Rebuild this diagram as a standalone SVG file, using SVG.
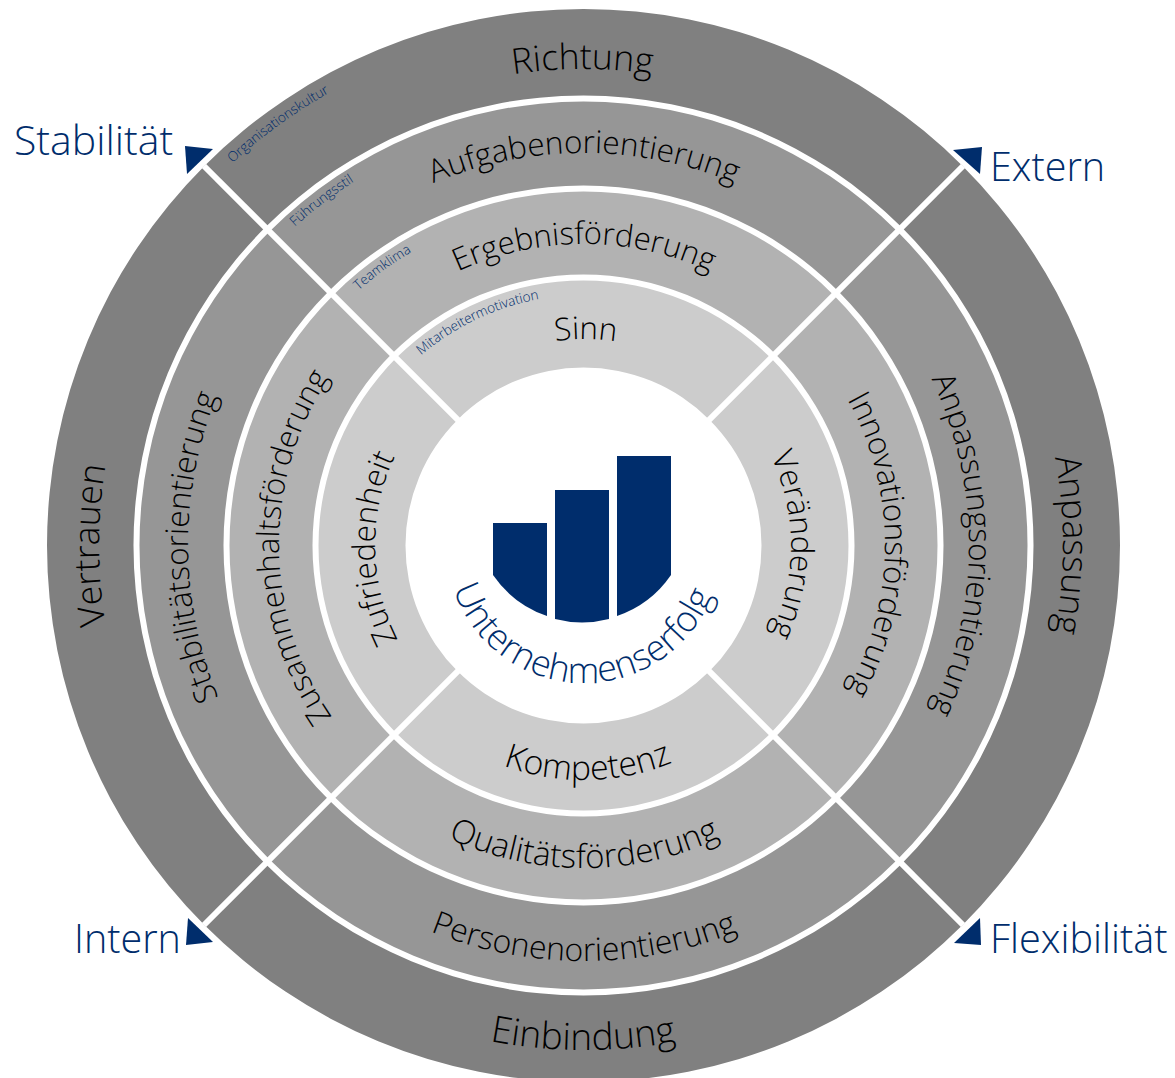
<svg xmlns="http://www.w3.org/2000/svg" width="1175" height="1078" viewBox="0 0 1175 1078">
<style>
text{font-family:"Open Sans","Noto Sans","Liberation Sans",sans-serif;font-weight:300;fill:#000}
.m{text-anchor:middle}
.n{fill:#002d6c}
.lg{font-size:35.5px}
.md{font-size:31.3px}
.sm{font-size:13.6px;fill:#002d6c}
.r1{fill:#808080}.r2{fill:#969696}.r3{fill:#b2b2b2}.r4{fill:#ccc}
.tri{fill:#002d6c}
</style>
<defs>
<path id="s1" d="M204.14 166.14A536.5 536.5 0 0 1 962.86 166.14L901.7 227.3A450 450 0 0 0 265.3 227.3Z"/>
<path id="s2" d="M269.54 231.54A444 444 0 0 1 897.46 231.54L838.06 290.94A360 360 0 0 0 328.94 290.94Z"/>
<path id="s3" d="M333.18 295.18A354 354 0 0 1 833.82 295.18L775.13 353.87A271 271 0 0 0 391.87 353.87Z"/>
<path id="s4" d="M396.12 358.12A265 265 0 0 1 770.88 358.12L709.37 419.63A178 178 0 0 0 457.63 419.63Z"/>
<path id="t476" d="M108 545A476 476 0 0 1 1060 545"/>
<path id="t479" d="M105 545A479 479 0 0 1 1063 545"/>
<path id="t485" d="M99 545A485 485 0 0 1 1069 545"/>
<path id="t392" d="M192 545A392 392 0 0 1 976 545"/>
<path id="t385" d="M199 545A385 385 0 0 1 969 545"/>
<path id="t396" d="M188 545A396 396 0 0 1 980 545"/>
<path id="t301" d="M283 545A301 301 0 0 1 885 545"/>
<path id="t305" d="M279 545A305 305 0 0 1 889 545"/>
<path id="t206" d="M378 545A206 206 0 0 1 790 545"/>
<path id="t207" d="M377 545A207 207 0 0 1 791 545"/>
<path id="t209" d="M375 545A209 209 0 0 1 793 545"/>
<path id="t519" d="M65 545A519 519 0 0 1 1103 545"/>
<path id="t430" d="M154 545A430 430 0 0 1 1014 545"/>
<path id="t340" d="M244 545A340 340 0 0 1 924 545"/>
<path id="t250" d="M334 545A250 250 0 0 1 834 545"/>
<path id="b505" d="M79 545A505 505 0 0 0 1089 545"/>
<path id="b416" d="M168 545A416 416 0 0 0 1000 545"/>
<path id="b323" d="M261 545A323 323 0 0 0 907 545"/>
<path id="b235" d="M349 545A235 235 0 0 0 819 545"/>
<path id="b138" d="M446 545A138 138 0 0 0 722 545"/>
</defs>

<g id="ring-outer" class="r1">
<g id="richtung"><use href="#s1"/><text class="lg m" transform="rotate(-0.2 584 545)"><textPath href="#t476" startOffset="50%">Richtung</textPath></text></g>
<g id="anpassung"><use href="#s1" transform="rotate(90 583.5 545.5)"/><text class="lg m" transform="rotate(90 584 545)"><textPath href="#t479" startOffset="50%">Anpassung</textPath></text></g>
<g id="einbindung"><use href="#s1" transform="rotate(180 583.5 545.5)"/><text class="m" style="font-size:37px" transform="rotate(0.1 584 545)"><textPath href="#b505" startOffset="50%">Einbindung</textPath></text></g>
<g id="vertrauen"><use href="#s1" transform="rotate(270 583.5 545.5)"/><text class="lg m" transform="rotate(-90 584 545)"><textPath href="#t485" startOffset="50%">Vertrauen</textPath></text></g>
</g>
<g id="ring-2" class="r2">
<g id="aufgabenorientierung"><use href="#s2"/><text class="m" style="font-size:31.5px"><textPath href="#t392" startOffset="50%">Aufgabenorientierung</textPath></text></g>
<g id="anpassungsorientierung"><use href="#s2" transform="rotate(90 583.5 545.5)"/><text class="md m" transform="rotate(90 584 545)"><textPath href="#t385" startOffset="50%">Anpassungsorientierung</textPath></text></g>
<g id="personenorientierung"><use href="#s2" transform="rotate(180 583.5 545.5)"/><text class="m" style="font-size:32px"><textPath href="#b416" startOffset="50%">Personenorientierung</textPath></text></g>
<g id="stabilitaetsorientierung"><use href="#s2" transform="rotate(270 583.5 545.5)"/><text class="md m" transform="rotate(-90.3 584 545)"><textPath href="#t396" startOffset="50%">Stabilitätsorientierung</textPath></text></g>
</g>
<g id="ring-3" class="r3">
<g id="ergebnisfoerderung"><use href="#s3"/><text class="m" style="font-size:31px"><textPath href="#t301" startOffset="50%">Ergebnisförderung</textPath></text></g>
<g id="innovationsfoerderung"><use href="#s3" transform="rotate(90 583.5 545.5)"/><text class="md m" transform="rotate(90 584 545)"><textPath href="#t301" startOffset="50%">Innovationsförderung</textPath></text></g>
<g id="qualitaetsfoerderung"><use href="#s3" transform="rotate(180 583.5 545.5)"/><text class="m" style="font-size:33px"><textPath href="#b323" startOffset="50%">Qualitätsförderung</textPath></text></g>
<g id="zusammenhaltsfoerderung"><use href="#s3" transform="rotate(270 583.5 545.5)"/><text class="m" style="font-size:30.7px" transform="rotate(-90.5 584 545)"><textPath href="#t305" startOffset="50%">Zusammenhaltsförderung</textPath></text></g>
</g>
<g id="ring-4" class="r4">
<g id="sinn"><use href="#s4"/><text class="md m" transform="rotate(0.5 584 545)"><textPath href="#t206" startOffset="50%">Sinn</textPath></text></g>
<g id="veraenderung"><use href="#s4" transform="rotate(90 583.5 545.5)"/><text class="md m" transform="rotate(90 584 545)"><textPath href="#t207" startOffset="50%">Veränderung</textPath></text></g>
<g id="kompetenz"><use href="#s4" transform="rotate(180 583.5 545.5)"/><text class="m" style="font-size:33.8px" transform="rotate(-1 584 545)"><textPath href="#b235" startOffset="50%">Kompetenz</textPath></text></g>
<g id="zufriedenheit"><use href="#s4" transform="rotate(270 583.5 545.5)"/><text class="md m" transform="rotate(-91 584 545)"><textPath href="#t209" startOffset="50%">Zufriedenheit</textPath></text></g>
</g>

<g id="connectors" stroke="#fff" stroke-width="6">
<line x1="204" y1="166" x2="963" y2="925"/>
<line x1="963" y1="166" x2="204" y2="925"/>
</g>

<g id="level-labels">
<text class="sm m" transform="rotate(-36 584 545)"><textPath href="#t519" startOffset="50%">Organisationskultur</textPath></text>
<text class="sm m" transform="rotate(-37.3 584 545)"><textPath href="#t430" startOffset="50%">Führungsstil</textPath></text>
<text class="sm m" transform="rotate(-36 584 545)"><textPath href="#t340" startOffset="50%">Teamklima</textPath></text>
<text class="sm m" transform="rotate(-25.5 584 545)"><textPath href="#t250" startOffset="50%">Mitarbeitermotivation</textPath></text>
</g>

<g id="center">
<path class="tri" d="M493 523H547V616A108 108 0 0 1 493 575Z"/>
<path class="tri" d="M555 490H609V619A108 108 0 0 1 555 619Z"/>
<path class="tri" d="M617 456H671V575A108 108 0 0 1 617 616Z"/>
<text class="m n" style="font-size:36px" transform="rotate(1.3 584 545)"><textPath href="#b138" startOffset="50%">Unternehmenserfolg</textPath></text>
</g>

<g id="stabilitaet"><path class="tri" d="M185 146L213 149L187 174Z"/><text class="n" x="14" y="155" font-size="41">Stabilität</text></g>
<g id="extern"><path class="tri" d="M953 150L982 147L980 174Z"/><text class="n" x="990" y="181" font-size="39.5">Extern</text></g>
<g id="intern"><path class="tri" d="M188 918L213 942L186 945Z"/><text class="n" x="74" y="953" font-size="39.5">Intern</text></g>
<g id="flexibilitaet"><path class="tri" d="M980 918L954 943L981 945Z"/><text class="n" x="990" y="953" font-size="39.7">Flexibilität</text></g>
</svg>
